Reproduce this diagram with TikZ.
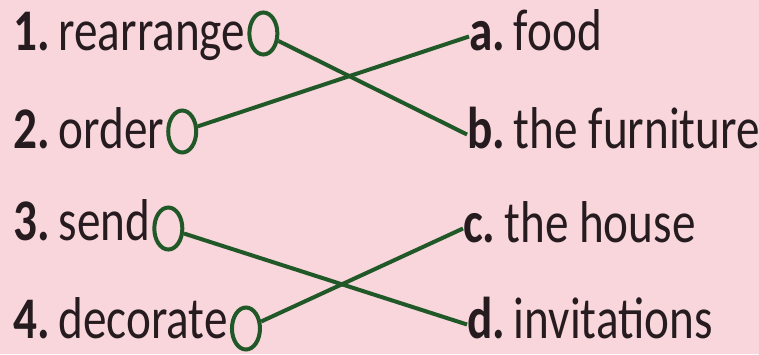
\documentclass[tikz,border=0pt]{standalone}
\usepackage{fontspec}
\setmainfont{Carlito}[FakeStretch=0.8]
\usetikzlibrary{shapes.geometric, positioning}

\definecolor{bgpink}{RGB}{248,214,219}
\definecolor{linegreen}{RGB}{32,88,40}
\definecolor{inkdark}{RGB}{38,28,32}

\begin{document}
\begin{tikzpicture}[x=1pt, y=-1pt,
  word/.style={font=\fontsize{59}{60}\selectfont, text=inkdark, inner sep=0pt,
    text height=27pt, text depth=0pt, anchor=base west},
  ring/.style={ellipse, draw=linegreen, line width=4pt, minimum width=28pt,
    minimum height=42pt, inner sep=0pt},
  link/.style={draw=linegreen, line width=4pt}]
\fill [bgpink] (0,0) rectangle (759,354);
\useasboundingbox (0,0) rectangle (759,354);

% left column
\node [word] (t1) at (13,50)  {\textbf{1.}\hspace{0.15em}rearrange};
\node [word] (t2) at (13,148) {\textbf{2.}\hspace{0.15em}order};
\node [word] (t3) at (13,240) {\textbf{3.}\hspace{0.15em}send};
\node [word] (t4) at (13,338) {\textbf{4.}\hspace{0.15em}decorate};

\node [ring, right=2pt of t1, yshift=3pt]  (c1) {};
\node [ring, right=2pt of t2, yshift=3pt]  (c2) {};
\node [ring, right=2pt of t3, yshift=-2pt] (c3) {};
\node [ring, right=2pt of t4, yshift=-4pt] (c4) {};

% right column
\node [word] (ta) at (469,50)  {\textbf{a.}\hspace{0.15em}food};
\node [word] (tb) at (467,148) {\textbf{b.}\hspace{0.15em}the furniture};
\node [word] (tc) at (463,242) {\textbf{c.}\hspace{0.15em}the house};
\node [word] (td) at (467,338) {\textbf{d.}\hspace{0.15em}invitations};

% matches
\draw [link] (c1) -- (tb.west);
\draw [link] (c2) -- (ta.west);
\draw [link] (c3) -- (td.west);
\draw [link] (c4) -- (tc.west);
\end{tikzpicture}
\end{document}
